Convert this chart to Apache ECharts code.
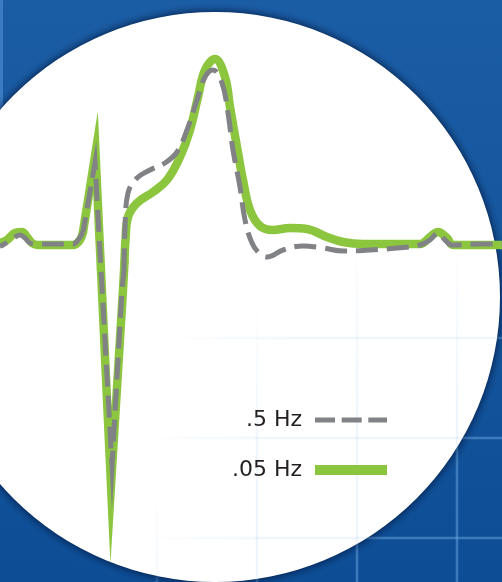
<!DOCTYPE html>
<html>
<head>
<meta charset="utf-8">
<script src="https://cdn.jsdelivr.net/npm/echarts@6/dist/echarts.min.js"></script>
<style>
html,body{margin:0;padding:0;background:#1b5da5;}
#chart{width:502px;height:582px;}
</style>
</head>
<body>
<div id="chart"></div>
<script>
// time in ms, amplitude in mV (baseline = 0)
const seriesNames = ['.5 Hz', '.05 Hz'];

// .05 Hz filter (green, solid)
const greenPWave = [[0,0.02],[14,0.05],[30,0.12],[44,0.13],[54,0.08],[64,0.02],[74,0],[146,0],[160,0.05],[166,0.13]];
const greenQRS   = [[166,0.13],[191,0.92],[222,-2.40],[246,-0.45],[249,-0.17]];
const greenSTT   = [[249,-0.17],[251,0.05],[256,0.28],[274,0.42],[306,0.53],[334,0.65],[360,0.88],[380,1.15],[396,1.48],[410,1.75],[430,1.86],[450,1.68],[460,1.38],[474,0.98],[486,0.65],[500,0.35],[520,0.19],[546,0.15],[580,0.17],[614,0.16],[654,0.08],[686,0.03],[726,0.01],[840,0.01],[860,0.08],[876,0.13],[894,0.07],[906,0],[1004,0]];

// .5 Hz filter (grey, dashed)
const greyPWave = [[0,-0.01],[6,0],[24,0.06],[40,0.10],[50,0.07],[60,0.02],[74,0.01],[146,0.01],[156,0.05],[166,0.13]];
const greyQRS   = [[166,0.13],[190,0.82],[224,-2.20],[244,-0.45],[248,-0.25]];
const greySTT   = [[248,-0.25],[250,0.18],[256,0.52],[274,0.67],[300,0.75],[330,0.82],[354,0.93],[374,1.15],[394,1.45],[410,1.68],[426,1.75],[444,1.62],[456,1.32],[466,0.95],[480,0.58],[490,0.25],[504,0.02],[520,-0.09],[534,-0.12],[566,-0.05],[606,-0.01],[646,-0.03],[686,-0.06],[740,-0.05],[794,-0.03],[840,0],[860,0.05],[876,0.12],[890,0.05],[904,0],[960,0.01],[1004,0.01]];

const GREEN = '#8cc63f';
const GREY = '#808285';

const chart = echarts.init(document.getElementById('chart'), null, {renderer:'canvas'});

function grad(vertical, start, full, a){
  const c = 'rgba(120,178,235,';
  return {type:'linear', x:0, y:0, x2: vertical ? 0 : 502, y2: vertical ? 582 : 0, global:true, colorStops:[
    {offset:0, color:c+'0)'},
    {offset:start, color:c+'0)'},
    {offset:full, color:c+a+')'},
    {offset:1, color:c+a+')'}]};
}
function gridLines(a, z){
  const out = [];
  const vs = [[157,0.82,1,0.6],[257,0.5,0.8,1],[357,0.4,0.7,1],[457,0.4,0.7,1]];
  vs.forEach(function(v){
    out.push({type:'line', z:z, silent:true, shape:{x1:v[0],y1:0,x2:v[0],y2:582}, style:{stroke:grad(true,v[1],v[2],a*v[3]), lineWidth:2.5}});
  });
  const hs = [[338,0.32,0.62],[438,0.28,0.55],[538,0.28,0.55]];
  hs.forEach(function(h){
    out.push({type:'line', z:z, silent:true, shape:{x1:0,y1:h[0],x2:502,y2:h[0]}, style:{stroke:grad(false,h[1],h[2],a), lineWidth:2.5}});
  });
  return out;
}

const graphics = [
  {type:'rect', z:0, silent:true, shape:{x:0,y:0,width:502,height:582},
   style:{fill:{type:'linear',x:0,y:0,x2:0,y2:1,colorStops:[{offset:0,color:'#1b5da5'},{offset:1,color:'#0d4d95'}]}}},
  {type:'rect', z:1, silent:true, shape:{x:0,y:0,width:3,height:300}, style:{fill:'#3b7bc3'}}
].concat(gridLines(0.35, 1)).concat([
  {type:'circle', z:2, silent:true, shape:{cx:215, cy:297, r:285},
   style:{fill:'#ffffff', shadowBlur:10, shadowColor:'rgba(0,15,50,0.95)'}}
]).concat(gridLines(0.12, 3));

function lineSeries(name, data, color, width, dashed, smooth, offset){
  return {
    name: name, type:'line', data: data, smooth: smooth, symbol:'none', z:5,
    color: color, itemStyle:{color: color},
    lineStyle:{color: color, width: width, type: dashed ? [22,9] : 'solid', dashOffset: offset || 0,
      join:'miter', miterLimit:80, cap: dashed ? 'butt' : 'round'},
    animation:false
  };
}

chart.setOption({
  animation:false,
  graphic: graphics,
  grid:{left:0,right:0,top:0,bottom:0},
  xAxis:{type:'value', min:0, max:1004, show:false},
  yAxis:{type:'value', min:-3.37, max:2.45, show:false},
  legend:{
    orient:'vertical', right:115, top:409, padding:0, itemGap:28,
    itemWidth:72, itemHeight:10, align:'right', selectedMode:false,
    itemStyle:{borderWidth:0},
    textStyle:{fontFamily:'DejaVu Sans', fontSize:22, color:'#231f20', lineHeight:22, padding:[0,8,0,0]},
    data:[
      {name: seriesNames[0], icon:'path://M0,0L0,0M0,2.5h20v5h-20zM26.7,2.5h20v5h-20zM53.3,2.5h18.7v5h-18.7zM72,10L72,10'},
      {name: seriesNames[1], icon:'rect'}
    ]
  },
  series:[
    lineSeries(seriesNames[1], greenPWave, GREEN, 8.5, false, 0.4),
    lineSeries(seriesNames[1], greenQRS, GREEN, 8.5, false, false),
    lineSeries(seriesNames[1], greenSTT, GREEN, 8.5, false, 0.4),
    lineSeries(seriesNames[0], greyPWave, GREY, 5, true, 0.4, 14),
    lineSeries(seriesNames[0], greyQRS, GREY, 5, true, false, 7),
    lineSeries(seriesNames[0], greySTT, GREY, 5, true, 0.4)
  ]
});
</script>
</body>
</html>
